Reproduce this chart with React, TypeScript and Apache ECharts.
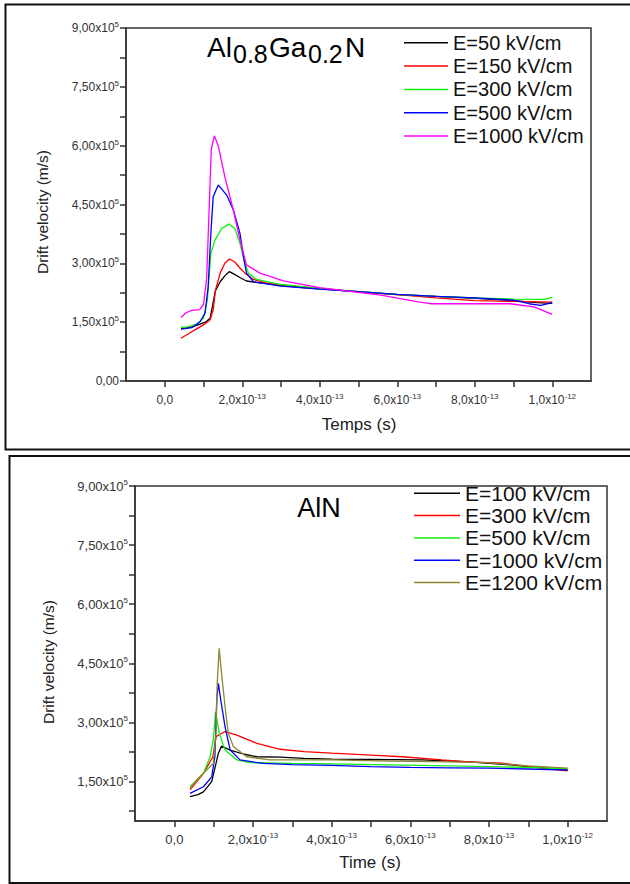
import React, { useEffect, useRef } from 'react';
import * as echarts from 'echarts';

// time in units of 1e-13 s, velocity in m/s
const topNames = ['E=50 kV/cm', 'E=150 kV/cm', 'E=300 kV/cm', 'E=500 kV/cm', 'E=1000 kV/cm'];
const topColors = ['#000000', '#ff0000', '#11ee11', '#0000ff', '#ff00ff'];

const topE50 = [[0.42,1.33e5],[0.7,1.38e5],[0.91,1.45e5],[1.05,1.50e5],[1.17,1.60e5],[1.24,1.95e5],[1.30,2.28e5],[1.43,2.53e5],[1.55,2.68e5],[1.67,2.79e5],[1.8,2.72e5],[1.94,2.64e5],[2.11,2.55e5],[2.46,2.50e5],[3.0,2.44e5],[3.5,2.39e5],[4.0,2.35e5],[5.0,2.27e5],[6.0,2.20e5],[7.0,2.16e5],[8.0,2.11e5],[9.0,2.05e5],[9.6,2.00e5],[10.0,1.98e5]];
const topE150 = [[0.42,1.09e5],[0.6,1.2e5],[0.82,1.33e5],[1.0,1.43e5],[1.17,1.56e5],[1.25,1.81e5],[1.31,2.32e5],[1.43,2.75e5],[1.55,3.0e5],[1.67,3.11e5],[1.8,3.04e5],[1.94,2.88e5],[2.07,2.75e5],[2.29,2.59e5],[2.6,2.50e5],[3.0,2.45e5],[4.0,2.36e5],[5.0,2.28e5],[6.0,2.20e5],[7.0,2.12e5],[8.0,2.05e5],[9.0,2.03e5],[10.0,2.01e5]];
const topE300 = [[0.42,1.37e5],[0.6,1.38e5],[0.82,1.45e5],[1.0,1.60e5],[1.1,2.07e5],[1.19,3.26e5],[1.3,3.6e5],[1.47,3.89e5],[1.66,4.0e5],[1.81,3.89e5],[1.94,3.51e5],[2.07,3.0e5],[2.16,2.75e5],[2.37,2.59e5],[3.0,2.46e5],[4.0,2.36e5],[5.0,2.28e5],[6.0,2.21e5],[7.0,2.16e5],[8.0,2.12e5],[9.0,2.09e5],[9.8,2.08e5],[10.0,2.13e5]];
const topE500 = [[0.42,1.32e5],[0.7,1.36e5],[0.91,1.51e5],[1.04,1.73e5],[1.12,2.40e5],[1.19,3.77e5],[1.25,4.70e5],[1.38,5.0e5],[1.6,4.74e5],[1.77,4.36e5],[1.94,3.77e5],[2.03,3.17e5],[2.11,2.75e5],[2.29,2.53e5],[3.0,2.42e5],[4.0,2.34e5],[5.0,2.28e5],[6.0,2.21e5],[7.0,2.16e5],[8.0,2.12e5],[9.0,2.06e5],[9.4,1.97e5],[9.7,1.93e5],[10.0,2.0e5]];
const topE1000 = [[0.42,1.62e5],[0.55,1.74e5],[0.7,1.80e5],[0.9,1.82e5],[1.0,1.95e5],[1.08,2.6e5],[1.15,4.5e5],[1.2,5.89e5],[1.28,6.25e5],[1.38,6.0e5],[1.55,5.21e5],[1.77,4.36e5],[1.94,3.6e5],[2.11,2.96e5],[2.46,2.75e5],[3.06,2.55e5],[4.0,2.38e5],[5.0,2.26e5],[5.58,2.19e5],[6.54,2.02e5],[6.85,1.97e5],[8.91,1.97e5],[9.53,1.89e5],[10.0,1.70e5]];

const botNames = ['E=100 kV/cm', 'E=300 kV/cm', 'E=500 kV/cm', 'E=1000 kV/cm', 'E=1200 kV/cm'];
const botColors = ['#000000', '#ff0000', '#11ee11', '#0000ff', '#8c8830'];

const botE100 = [[0.40,1.12e5],[0.6,1.17e5],[0.74,1.24e5],[0.95,1.50e5],[1.06,1.96e5],[1.12,2.22e5],[1.2,2.40e5],[1.42,2.30e5],[1.75,2.20e5],[2.1,2.13e5],[2.69,2.12e5],[3.3,2.09e5],[4.0,2.07e5],[5.0,2.06e5],[6.3,2.05e5],[7.5,2.0e5],[8.6,1.92e5],[9.2,1.86e5],[10.0,1.80e5]];
const botE300 = [[0.40,1.29e5],[0.74,1.71e5],[0.98,2.13e5],[1.06,2.64e5],[1.29,2.77e5],[1.59,2.68e5],[2.1,2.47e5],[2.69,2.32e5],[3.3,2.26e5],[4.0,2.22e5],[5.0,2.17e5],[5.8,2.13e5],[6.8,2.05e5],[7.5,2.0e5],[8.33,1.97e5],[9.05,1.88e5],[9.5,1.82e5],[10.0,1.77e5]];
const botE500 = [[0.40,1.37e5],[0.74,1.71e5],[0.91,2.13e5],[0.99,2.56e5],[1.05,3.27e5],[1.14,2.73e5],[1.29,2.30e5],[1.59,2.05e5],[1.92,1.98e5],[3.0,1.96e5],[4.0,1.95e5],[5.8,1.92e5],[7.0,1.90e5],[8.0,1.88e5],[9.0,1.86e5],[10.0,1.82e5]];
const botE1000 = [[0.40,1.20e5],[0.74,1.37e5],[0.95,1.62e5],[1.03,2.13e5],[1.08,3.6e5],[1.12,3.99e5],[1.18,3.57e5],[1.29,2.89e5],[1.42,2.30e5],[1.67,2.05e5],[2.26,1.96e5],[3.0,1.93e5],[4.0,1.91e5],[5.0,1.88e5],[6.0,1.86e5],[7.0,1.85e5],[8.0,1.84e5],[9.0,1.82e5],[10.0,1.79e5]];
const botE1200 = [[0.40,1.33e5],[0.57,1.54e5],[0.82,1.79e5],[0.99,1.96e5],[1.06,2.73e5],[1.09,3.99e5],[1.14,4.88e5],[1.2,4.25e5],[1.29,3.40e5],[1.37,2.73e5],[1.5,2.39e5],[1.84,2.13e5],[2.43,2.05e5],[4.0,2.05e5],[5.5,2.02e5],[7.0,2.0e5],[7.93,1.98e5],[9.0,1.90e5],[10.0,1.84e5]];

const xTickValues = [0, 1, 2, 3, 4, 5, 6, 7, 8, 9, 10];
const xLabelValues = [0, 2, 4, 6, 8, 10];
const yTickValuesTop = [0, 75000, 150000, 225000, 300000, 375000, 450000, 525000, 600000, 675000, 750000, 825000, 900000];
const yLabelValuesTop = [0, 150000, 300000, 450000, 600000, 750000, 900000];
const yTickValuesBot = [75000, 150000, 225000, 300000, 375000, 450000, 525000, 600000, 675000, 750000, 825000, 900000];
const yLabelValuesBot = [150000, 300000, 450000, 600000, 750000, 900000];

const FONT = 'Arial, "Liberation Sans", sans-serif';

const yFmt = (v: number) => {
  if (v === 0) return '{m|0,00}';
  const m = (v / 1e5).toFixed(2).replace('.', ',');
  return `{m|${m}x10}{s|5}`;
};
const xFmt = (v: number) => {
  if (v === 0) return '{m|0,0}';
  if (v >= 10) return `{m|${(v / 10).toFixed(1).replace('.', ',')}x10}{s|-12}`;
  return `{m|${v.toFixed(1).replace('.', ',')}x10}{s|-13}`;
};

function buildOption(cfg: any) {
  const rich = (fs: number) => ({
    m: { fontSize: fs, color: '#333', fontFamily: FONT, lineHeight: fs + 3 },
    s: { fontSize: 8, color: '#333', fontFamily: FONT, verticalAlign: 'top', lineHeight: 8 },
  });
  return {
    animation: false,
    grid: {
      left: cfg.grid.left, top: cfg.grid.top, width: cfg.grid.width, height: cfg.grid.height,
      show: true, borderColor: '#333', borderWidth: 1.5, backgroundColor: 'transparent',
      containLabel: false, outerBoundsMode: 'none',
    },
    xAxis: {
      type: 'value', min: -1, max: 11,
      axisLine: { show: true, onZero: false, lineStyle: { color: '#333', width: 1.5 } },
      axisTick: { show: true, inside: false, length: 6, customValues: xTickValues, lineStyle: { color: '#333', width: 1.5 } },
      axisLabel: { customValues: xLabelValues, margin: cfg.xLabelMargin, formatter: xFmt, rich: rich(cfg.labelFs) },
      splitLine: { show: false },
    },
    yAxis: {
      type: 'value', min: cfg.yMin, max: 900000,
      axisLine: { show: true, onZero: false, lineStyle: { color: '#333', width: 1.5 } },
      axisTick: { show: true, inside: false, length: 6, customValues: cfg.yTicks, lineStyle: { color: '#333', width: 1.5 } },
      axisLabel: { customValues: cfg.yLabels, margin: 7, formatter: yFmt, rich: rich(cfg.labelFs) },
      splitLine: { show: false },
    },
    legend: {
      orient: 'vertical', left: cfg.legend.left, top: cfg.legend.top,
      icon: 'rect', itemWidth: cfg.legend.itemWidth, itemHeight: 1.5, itemGap: cfg.legend.itemGap,
      textStyle: { fontSize: cfg.legend.fontSize, lineHeight: cfg.legend.lineHeight, color: '#111', fontFamily: FONT, padding: [0, 0, 0, 0] },
      padding: 0,
      selectedMode: false,
      data: cfg.names,
    },
    series: cfg.data.map((d: number[][], i: number) => ({
      type: 'line', name: cfg.names[i], data: d, color: cfg.colors[i],
      showSymbol: false, symbol: 'none', lineStyle: { width: 1.3, color: cfg.colors[i] },
    })),
    graphic: cfg.graphic,
  };
}

export default function App() {
  const topRef = useRef<HTMLDivElement>(null);
  const botRef = useRef<HTMLDivElement>(null);
  useEffect(() => {
    document.body.style.margin = '0';
    const top = echarts.init(topRef.current!, null, { renderer: 'svg' });
    const bot = echarts.init(botRef.current!, null, { renderer: 'svg' });

    const titleSeg = (text: string, x: number, y: number, fs: number) => ({
      type: 'text', x, y, style: { text, fontSize: fs, fontFamily: FONT, fill: '#000', align: 'left', verticalAlign: 'middle' },
    });

    top.setOption(buildOption({
      grid: { left: 126, top: 28, width: 465, height: 353 },
      yMin: 0, yTicks: yTickValuesTop, yLabels: yLabelValuesTop,
      labelFs: 12, xLabelMargin: 11,
      names: topNames, colors: topColors,
      data: [topE50, topE150, topE300, topE500, topE1000],
      legend: { left: 404, top: 32.8, itemWidth: 44, itemGap: 3.3, fontSize: 20, lineHeight: 20 },
      graphic: [
        { type: 'rect', shape: { x: 5.5, y: 4.5, width: 640, height: 445 }, style: { fill: 'none', stroke: '#111', lineWidth: 2 }, silent: true },
        { type: 'text', x: 42, y: 212, rotation: Math.PI / 2, style: { text: 'Drift velocity (m/s)', fontSize: 15.5, fontFamily: FONT, fill: '#222', align: 'center', verticalAlign: 'middle' } },
        { type: 'text', x: 359, y: 424, style: { text: 'Temps (s)', fontSize: 17, fontFamily: FONT, fill: '#222', align: 'center', verticalAlign: 'middle' } },
        titleSeg('Al', 207, 47, 28),
        titleSeg('0.8', 233, 54, 25),
        titleSeg('Ga', 269, 47, 28),
        titleSeg('0.2', 308, 54, 25),
        titleSeg('N', 345, 47, 28),
      ],
    }));

    bot.setOption(buildOption({
      grid: { left: 135, top: 34, width: 472, height: 335 },
      yMin: 50000, yTicks: yTickValuesBot, yLabels: yLabelValuesBot,
      labelFs: 13, xLabelMargin: 10,
      names: botNames, colors: botColors,
      data: [botE100, botE300, botE500, botE1000, botE1200],
      legend: { left: 414, top: 30.8, itemWidth: 46, itemGap: 1.3, fontSize: 21, lineHeight: 21 },
      graphic: [
        { type: 'rect', shape: { x: 9.5, y: 4, width: 640, height: 427 }, style: { fill: 'none', stroke: '#111', lineWidth: 2 }, silent: true },
        { type: 'text', x: 48, y: 210, rotation: Math.PI / 2, style: { text: 'Drift velocity (m/s)', fontSize: 15.5, fontFamily: FONT, fill: '#222', align: 'center', verticalAlign: 'middle' } },
        { type: 'text', x: 370, y: 410.7, style: { text: 'Time (s)', fontSize: 17, fontFamily: FONT, fill: '#222', align: 'center', verticalAlign: 'middle' } },
        { type: 'text', x: 319, y: 56, style: { text: 'AlN', fontSize: 27, fontFamily: FONT, fill: '#000', align: 'center', verticalAlign: 'middle' } },
      ],
    }));

    return () => { top.dispose(); bot.dispose(); };
  }, []);

  return (
    <div style={{ position: 'absolute', left: 0, top: 0, width: 630, height: 884, background: '#fff' }}>
      <div ref={topRef} style={{ position: 'absolute', left: 0, top: 0, width: 630, height: 452 }} />
      <div ref={botRef} style={{ position: 'absolute', left: 0, top: 452, width: 630, height: 432 }} />
    </div>
  );
}
